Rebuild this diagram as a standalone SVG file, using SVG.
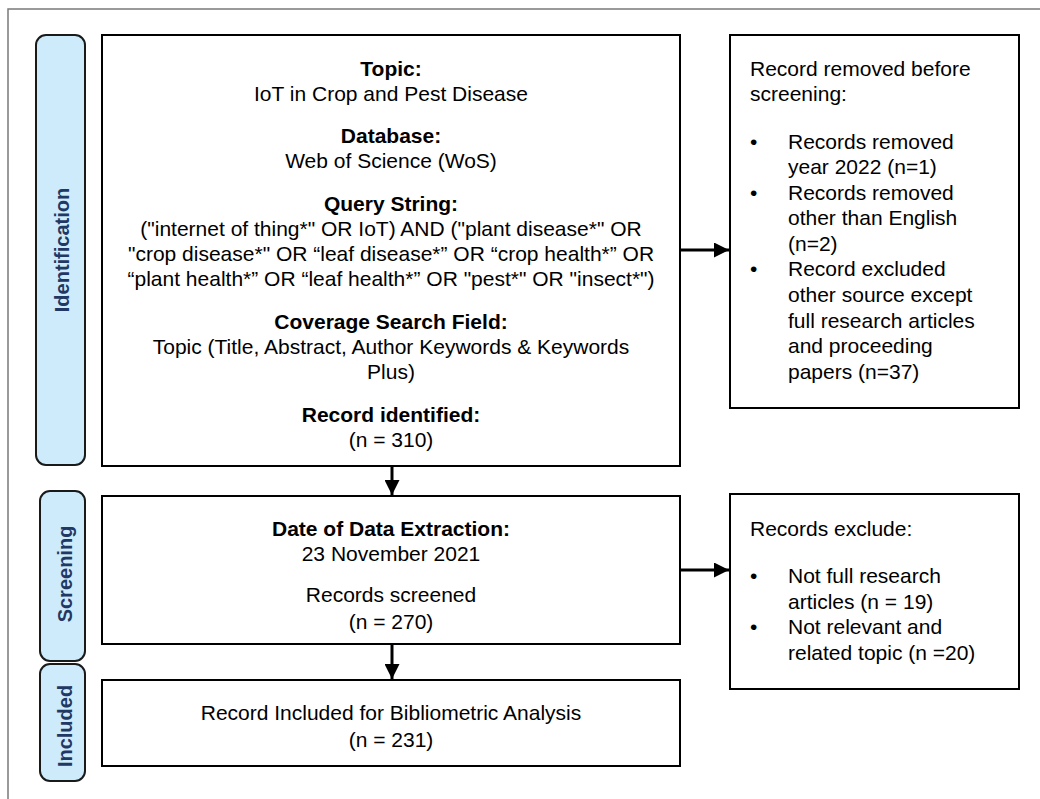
<svg xmlns="http://www.w3.org/2000/svg" width="1040" height="799" viewBox="0 0 1040 799">
<style>
  .t{font-family:"Liberation Sans",Arial,sans-serif;font-size:21px;fill:#000}
  .b{font-weight:bold}
  .c{text-anchor:middle}
  .box{fill:#fff;stroke:#000;stroke-width:2}
  .pill{fill:#cdebfb;stroke:#1a1a1a;stroke-width:2}
  .pl{font-family:"Liberation Sans",Arial,sans-serif;font-size:20px;font-weight:bold;fill:#1f3864;text-anchor:middle}
  .conn{stroke:#000;stroke-width:3;fill:none}
</style>
<defs>
  <marker id="ah" markerWidth="5" markerHeight="5" refX="5" refY="2.5" orient="auto" markerUnits="strokeWidth">
    <path d="M0,0 L5,2.5 L0,5 Z" fill="#000"/>
  </marker>
</defs>
<rect width="1040" height="799" fill="#fff"/>
<rect x="8" y="9" width="1100" height="900" fill="none" stroke="#7a7a7a" stroke-width="1.5"/>

<g id="stage-identification">
  <rect class="pill" x="36" y="35" width="49" height="430" rx="10"/>
  <text class="pl" transform="translate(69,250) rotate(-90)">Identification</text>
</g>
<g id="stage-screening">
  <rect class="pill" x="40" y="491" width="45" height="170" rx="10"/>
  <text class="pl" transform="translate(72,574) rotate(-90)">Screening</text>
</g>
<g id="stage-included">
  <rect class="pill" x="40" y="664" width="45" height="117" rx="10"/>
  <text class="pl" transform="translate(72,726) rotate(-90)">Included</text>
</g>

<g id="identification-box">
  <rect class="box" x="102" y="35" width="578" height="431"/>
  <text class="t c b" x="391" y="76">Topic:</text>
  <text class="t c" x="391" y="101">IoT in Crop and Pest Disease</text>
  <text class="t c b" x="391" y="143">Database:</text>
  <text class="t c" x="391" y="168">Web of Science (WoS)</text>
  <text class="t c b" x="391" y="211">Query String:</text>
  <text class="t c" x="391" y="236">("internet of thing*" OR IoT) AND ("plant disease*" OR</text>
  <text class="t c" x="391" y="261">"crop disease*" OR “leaf disease*” OR “crop health*” OR</text>
  <text class="t c" x="391" y="286">“plant health*” OR “leaf health*” OR "pest*" OR "insect*")</text>
  <text class="t c b" x="391" y="329">Coverage Search Field:</text>
  <text class="t c" x="391" y="354">Topic (Title, Abstract, Author Keywords &amp; Keywords</text>
  <text class="t c" x="391" y="379">Plus)</text>
  <text class="t c b" x="391" y="422">Record identified:</text>
  <text class="t c" x="391" y="447">(n = 310)</text>
</g>

<g id="removed-box">
  <rect class="box" x="730" y="35" width="289" height="373"/>
  <text class="t" x="750" y="76">Record removed before</text>
  <text class="t" x="750" y="101">screening:</text>
  <text class="t" x="750" y="149">•</text>
  <text class="t" x="788" y="149">Records removed</text>
  <text class="t" x="788" y="174">year 2022 (n=1)</text>
  <text class="t" x="750" y="200">•</text>
  <text class="t" x="788" y="200">Records removed</text>
  <text class="t" x="788" y="225">other than English</text>
  <text class="t" x="788" y="251">(n=2)</text>
  <text class="t" x="750" y="276">•</text>
  <text class="t" x="788" y="276">Record excluded</text>
  <text class="t" x="788" y="302">other source except</text>
  <text class="t" x="788" y="328">full research articles</text>
  <text class="t" x="788" y="353">and proceeding</text>
  <text class="t" x="788" y="379">papers (n=37)</text>
</g>

<g id="screening-box">
  <rect class="box" x="102" y="496" width="578" height="148"/>
  <text class="t c b" x="391" y="536">Date of Data Extraction:</text>
  <text class="t c" x="391" y="561">23 November 2021</text>
  <text class="t c" x="391" y="602">Records screened</text>
  <text class="t c" x="391" y="629">(n = 270)</text>
</g>

<g id="excluded-box">
  <rect class="box" x="730" y="494" width="289" height="195"/>
  <text class="t" x="750" y="536">Records exclude:</text>
  <text class="t" x="750" y="583">•</text>
  <text class="t" x="788" y="583">Not full research</text>
  <text class="t" x="788" y="609">articles (n = 19)</text>
  <text class="t" x="750" y="634">•</text>
  <text class="t" x="788" y="634">Not relevant and</text>
  <text class="t" x="788" y="660">related topic (n =20)</text>
</g>

<g id="included-box">
  <rect class="box" x="102" y="680" width="578" height="86"/>
  <text class="t c" x="391" y="720">Record Included for Bibliometric Analysis</text>
  <text class="t c" x="391" y="747">(n = 231)</text>
</g>

<g id="connectors">
  <line class="conn" x1="392" y1="467" x2="392" y2="495" marker-end="url(#ah)"/>
  <line class="conn" x1="392" y1="645" x2="392" y2="679" marker-end="url(#ah)"/>
  <line class="conn" x1="681" y1="250" x2="729" y2="250" marker-end="url(#ah)"/>
  <line class="conn" x1="681" y1="570" x2="729" y2="570" marker-end="url(#ah)"/>
</g>
</svg>
